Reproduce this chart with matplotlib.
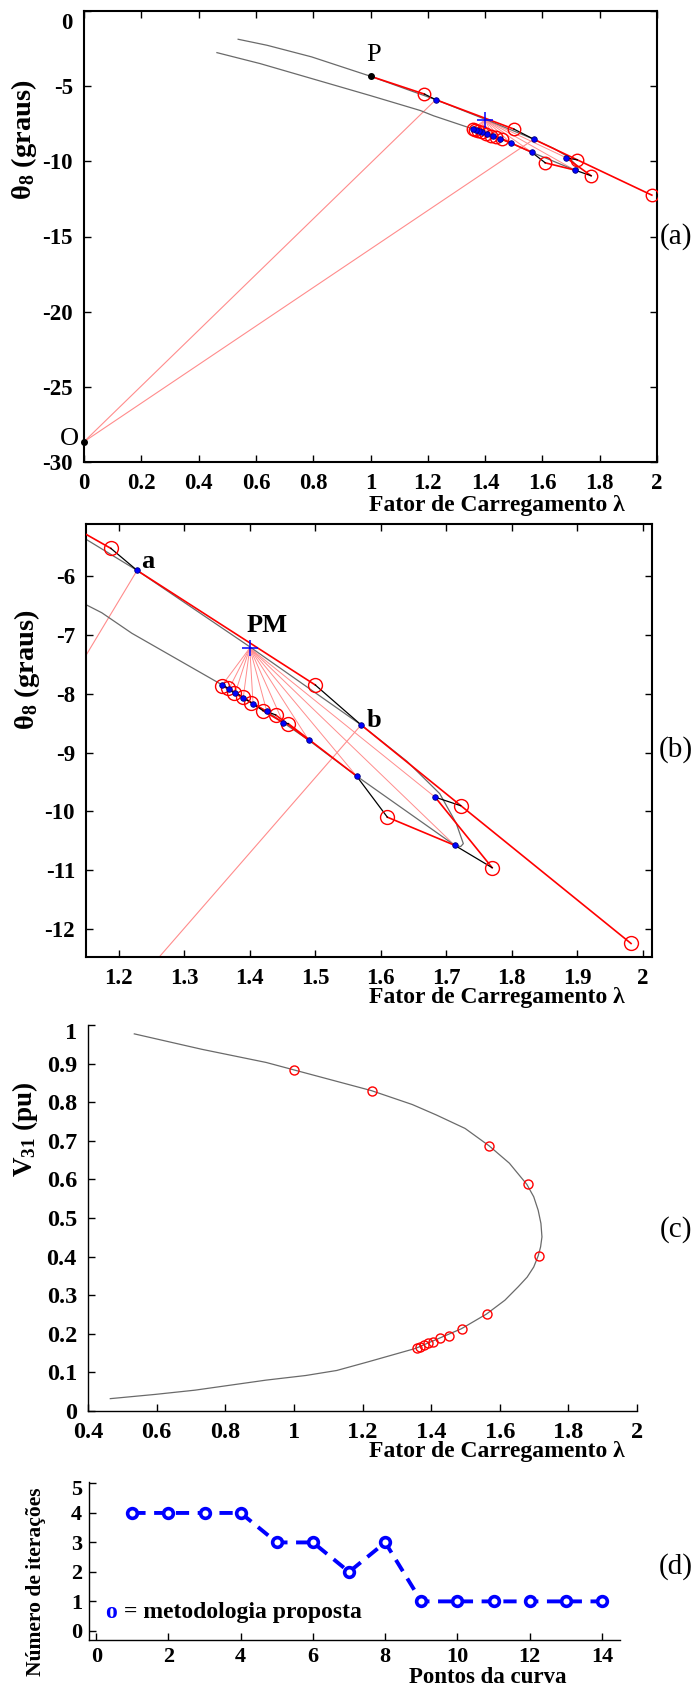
import matplotlib
matplotlib.use("Agg")
import matplotlib.pyplot as plt
from matplotlib.ticker import FuncFormatter
from matplotlib.transforms import ScaledTranslation

plt.rcParams['font.family'] = ['Liberation Serif', 'DejaVu Serif']
plt.rcParams['font.weight'] = 'bold'
plt.rcParams['axes.unicode_minus'] = False
plt.rcParams['mathtext.fontset'] = 'custom'
plt.rcParams['mathtext.rm'] = 'Liberation Serif:bold'
plt.rcParams['mathtext.bf'] = 'Liberation Serif:bold'
plt.rcParams['mathtext.it'] = 'Liberation Serif:bold'

# ---------------- data ----------------
# exact curve theta_8 x lambda (upper branch -> nose -> lower branch)
curve_lam = [0.538, 0.639, 0.794, 1.000, 1.150, 1.228, 1.400, 1.570, 1.640, 1.690,
             1.715, 1.726, 1.722, 1.713, 1.563, 1.490, 1.451, 1.426, 1.405, 1.390,
             1.378, 1.368, 1.358, 1.220, 1.174, 1.000, 0.794, 0.615, 0.464]
curve_theta = [-1.88, -2.28, -3.05, -4.34, -5.37, -5.90, -7.20, -8.53, -9.15, -9.70,
               -10.20, -10.55, -10.60, -10.58, -9.40, -8.79, -8.49, -8.30, -8.17, -8.07,
               -7.98, -7.92, -7.85, -6.97, -6.62, -5.63, -4.49, -3.50, -2.77]

# converged points of the continuation (first one is the base case P)
conv_lam = [1.000, 1.228, 1.570, 1.683, 1.713, 1.563, 1.490, 1.451, 1.426, 1.405,
            1.390, 1.378, 1.368, 1.358]
conv_theta = [-4.34, -5.90, -8.53, -9.76, -10.58, -9.40, -8.79, -8.49, -8.30, -8.17,
              -8.07, -7.98, -7.92, -7.85]
conv_v = [0.883, 0.830, 0.687, 0.587, 0.402, 0.251, 0.213, 0.194, 0.188, 0.179,
          0.175, 0.170, 0.166, 0.162]

# predicted points
pred_lam = [1.188, 1.500, 1.982, 1.722, 1.770, 1.610, 1.459, 1.4395, 1.4205, 1.402,
            1.389, 1.376, 1.366, 1.357]
pred_theta = [-5.525, -7.85, -12.25, -9.905, -10.96, -10.10, -8.51, -8.36, -8.29, -8.15,
              -8.05, -7.99, -7.90, -7.86]

# predictor steps (converged index -> predicted index)
pred_from = [0, 1, 2, 3, 4, 5, 6, 7, 8, 9, 10, 11, 12]
pred_to = [0, 1, 2, 4, 5, 6, 7, 8, 9, 10, 11, 12, 13]
# corrector steps (predicted index -> converged index)
corr_from = [0, 1, 3, 4, 5, 6, 7, 8, 9, 10, 11, 12, 13]
corr_to = [1, 2, 3, 4, 5, 7, 8, 9, 10, 11, 12, 13, 13]

origin_lam, origin_theta = 0.0, -28.65
pm_lam, pm_theta = 1.400, -7.22

# voltage curve V_31 x lambda
vcurve_lam = [0.535, 0.732, 0.919, 1.003, 1.226, 1.345, 1.415, 1.499, 1.569, 1.628,
              1.679, 1.699, 1.712, 1.720, 1.723, 1.719, 1.712, 1.699, 1.680, 1.654,
              1.615, 1.561, 1.488, 1.354, 1.215, 1.125, 1.035, 0.919, 0.712, 0.596,
              0.465]
vcurve_v = [0.977, 0.937, 0.903, 0.883, 0.830, 0.794, 0.767, 0.732, 0.687, 0.642,
            0.587, 0.555, 0.520, 0.486, 0.451, 0.425, 0.402, 0.373, 0.347, 0.322,
            0.287, 0.251, 0.213, 0.162, 0.127, 0.105, 0.092, 0.080, 0.054, 0.043,
            0.032]

# iterations per point
curve_points = list(range(1, 15))
iterations = [4, 4, 4, 4, 3, 3, 2, 3, 1, 1, 1, 1, 1, 1]

# ---------------- figure ----------------
W, H = 697, 1686
fig = plt.figure(figsize=(W / 100, H / 100), dpi=100)


def px_axes(l, t, r, b):
    return fig.add_axes([l / W, 1 - b / H, (r - l) / W, (b - t) / H])


def ftext(x, y, s, **kw):
    fig.text(x / W, 1 - y / H, s, **kw)


fmt = FuncFormatter(lambda v, p: ('%g' % round(v, 6)))

RED = '#ff0000'
PINK = '#ff8c8c'
GRAY = '#6a6a6a'


def style_box(ax, fs, lw=1.5, box=True, pad=8, top_shift=0):
    for side in ['top', 'right']:
        ax.spines[side].set_visible(box)
    for sp in ax.spines.values():
        sp.set_linewidth(lw)
    ax.tick_params(direction='in', length=5, width=1, labelsize=fs, pad=pad,
                   top=box, right=box)
    ax.xaxis.set_major_formatter(fmt)
    ax.yaxis.set_major_formatter(fmt)
    for lab in ax.get_xticklabels() + ax.get_yticklabels():
        lab.set_fontweight('bold')
    if top_shift:
        # the uppermost value label sits a little below its tick
        lab = ax.yaxis.get_major_ticks()[-1].label1
        lab.set_transform(lab.get_transform() +
                          ScaledTranslation(0, -top_shift / 72, fig.dpi_scale_trans))


def draw_theta(ax, circ_ms):
    ax.plot(curve_lam, curve_theta, color=GRAY, lw=0.9, zorder=2)
    for k in (1, 2):
        ax.plot([origin_lam, conv_lam[k]], [origin_theta, conv_theta[k]],
                color=PINK, lw=0.8, zorder=1)
    for k in range(3, len(conv_lam)):
        ax.plot([pm_lam, conv_lam[k]], [pm_theta, conv_theta[k]],
                color=PINK, lw=0.7, zorder=1)
    for i, j in zip(pred_from, pred_to):
        ax.plot([conv_lam[i], pred_lam[j]], [conv_theta[i], pred_theta[j]],
                color=RED, lw=1.2, zorder=3)
    for j, i in zip(corr_from, corr_to):
        ax.plot([pred_lam[j], conv_lam[i]], [pred_theta[j], conv_theta[i]],
                color='black', lw=0.9, zorder=3)
    ax.plot(pred_lam, pred_theta, 'o', mfc='none', mec=RED, ms=circ_ms, mew=1.0, zorder=4)
    ax.plot(conv_lam[1:], conv_theta[1:], 'o', color='#0000ff', mec='#000080',
            ms=4, mew=0.6, zorder=5)
    ax.plot([conv_lam[0], origin_lam], [conv_theta[0], origin_theta], 'o',
            color='black', ms=4, zorder=5, clip_on=False)
    ax.plot([pm_lam], [pm_theta], '+', color='#0000ff', ms=11, mew=1.1, zorder=6)


# ---- (a)
axa = px_axes(84, 11, 657, 462)
draw_theta(axa, 9.0)
axa.set_xlim(0, 2)
axa.set_ylim(-30, 0)
axa.set_xticks([0, 0.2, 0.4, 0.6, 0.8, 1, 1.2, 1.4, 1.6, 1.8, 2])
axa.set_yticks([-30, -25, -20, -15, -10, -5, 0])
style_box(axa, 16.5, top_shift=7)
axa.text(1.01, -2.94, 'P', fontsize=19, fontweight='normal', ha='center', va='center')
axa.text(-0.05, -28.45, 'O', fontsize=19, fontweight='normal', ha='center', va='center')

# ---- (b)
axb = px_axes(86, 524, 652, 957)
draw_theta(axb, 10.0)
axb.set_xlim(1.15, 2.014)
axb.set_ylim(-12.48, -5.11)
axb.set_xticks([1.2, 1.3, 1.4, 1.5, 1.6, 1.7, 1.8, 1.9, 2.0])
axb.set_yticks([-12, -11, -10, -9, -8, -7, -6])
style_box(axb, 16.5)
axb.text(1.244, -5.74, 'a', fontsize=19, ha='center', va='center')
axb.text(1.426, -6.83, 'PM', fontsize=19, ha='center', va='center')
axb.text(1.59, -8.46, 'b', fontsize=19, ha='center', va='center')

# ---- (c)
axc = px_axes(88, 1025, 637, 1411)
axc.plot(vcurve_lam, vcurve_v, color=GRAY, lw=0.9)
axc.plot(conv_lam, conv_v, 'o', mfc='none', mec=RED, ms=6.5, mew=1.0)
axc.set_xlim(0.4, 2)
axc.set_ylim(0, 1)
axc.set_xticks([0.4, 0.6, 0.8, 1, 1.2, 1.4, 1.6, 1.8, 2])
axc.set_yticks([0, 0.1, 0.2, 0.3, 0.4, 0.5, 0.6, 0.7, 0.8, 0.9, 1])
style_box(axc, 17.5, lw=1.0, box=False, top_shift=4.5)

# ---- (d)
axd = px_axes(89, 1482, 620, 1640)
axd.plot(curve_points, iterations, color='#0000ff', lw=2.8, dashes=(3.4, 2.2),
         marker='o', ms=7, mfc='white', mec='#0000ff', mew=2.6)
axd.set_xlim(-0.2, 14.5)
axd.set_ylim(-0.31, 5.05)
axd.set_xticks([0, 2, 4, 6, 8, 10, 12, 14])
axd.set_yticks([0, 1, 2, 3, 4, 5])
style_box(axd, 16, lw=1.0, box=False, pad=5, top_shift=3)
axd.text(0.24, 0.45, 'o', color='#0000ff', fontsize=17, va='baseline')
axd.text(0.77, 0.45, '= metodologia proposta', color='black', fontsize=17, va='baseline')

# ---- axis titles and panel tags
xl = 'Fator de Carregamento λ'
ftext(625, 505, xl, fontsize=17, ha='right', va='center')
ftext(625, 998, xl, fontsize=17, ha='right', va='center')
ftext(625, 1452, xl, fontsize=17, ha='right', va='center')
ftext(488, 1683, 'Pontos da curva', fontsize=16.5, ha='center', va='baseline')

ftext(24, 140, r'$\mathbf{\theta_8}$ (graus)', fontsize=20.5, rotation=90, ha='center', va='center')
ftext(27, 670, r'$\mathbf{\theta_8}$ (graus)', fontsize=20.5, rotation=90, ha='center', va='center')
ftext(25, 1129, r'$\mathbf{V_{31}}$ (pu)', fontsize=19.5, rotation=90, ha='center', va='center')
ftext(36, 1582, 'Número de iterações', fontsize=15.5, rotation=90, ha='center', va='center')

for tag, y in (('(a)', 237), ('(b)', 750), ('(c)', 1230), ('(d)', 1567)):
    ftext(676, y, tag, fontsize=21, fontweight='normal', ha='center', va='center')

fig.savefig('out.png', dpi=100)
